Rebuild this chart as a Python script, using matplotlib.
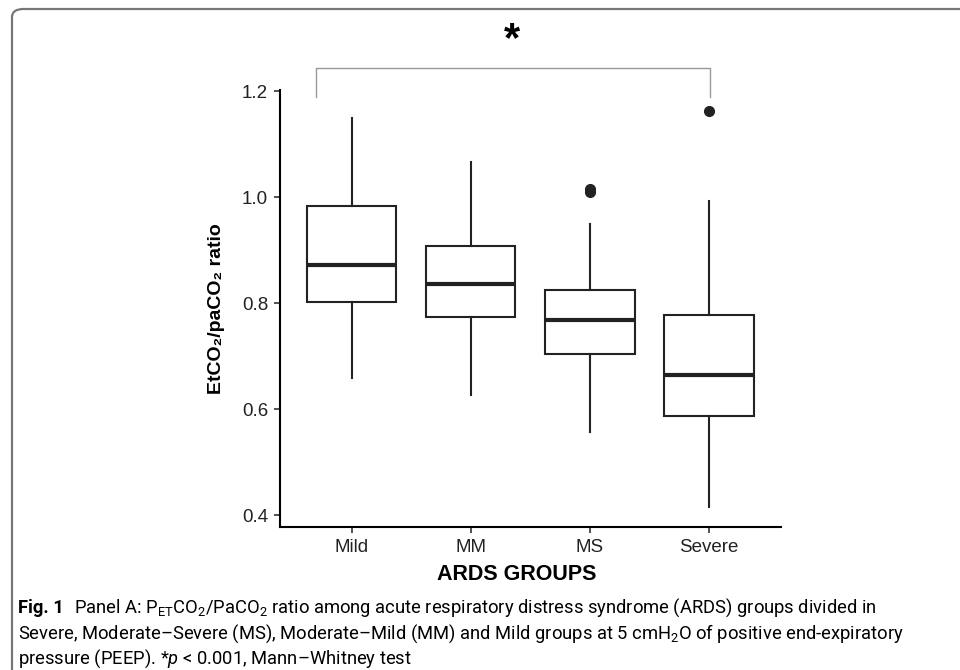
import matplotlib
matplotlib.use('Agg')
import matplotlib.pyplot as plt
from matplotlib.patches import FancyBboxPatch

# Box summary values
groups = ['Mild', 'MM', 'MS', 'Severe']
whisker_low = [0.658, 0.626, 0.556, 0.416]
q1 = [0.802, 0.773, 0.704, 0.586]
median = [0.872, 0.835, 0.768, 0.664]
q3 = [0.984, 0.907, 0.824, 0.777]
whisker_high = [1.150, 1.067, 0.949, 0.992]
outliers = [[], [], [1.010, 1.016], [1.163]]

yticks = [0.4, 0.6, 0.8, 1.0, 1.2]

plt.rcParams['font.family'] = ['Liberation Sans', 'DejaVu Sans']
plt.rcParams['mathtext.fontset'] = 'custom'
plt.rcParams['mathtext.rm'] = 'Roboto'
plt.rcParams['mathtext.it'] = 'Roboto:italic'
plt.rcParams['mathtext.bf'] = 'Roboto:bold'

W, H = 960, 670
fig = plt.figure(figsize=(W / 100, H / 100), dpi=100)

# panel placed in pixel units
left, right, top, bottom = 280, 780.6, 89.7, 527
ax = fig.add_axes([left / W, 1 - bottom / H, (right - left) / W, (bottom - top) / H])

stats = []
for i, g in enumerate(groups):
    stats.append(dict(label=g, med=median[i], q1=q1[i], q3=q3[i],
                      whislo=whisker_low[i], whishi=whisker_high[i],
                      fliers=outliers[i]))

line_c = '#222222'
ax.bxp(stats, positions=range(1, 5), widths=0.75, patch_artist=True,
       showcaps=False,
       boxprops=dict(facecolor='white', edgecolor=line_c, linewidth=1.5),
       medianprops=dict(color=line_c, linewidth=3.0),
       whiskerprops=dict(color=line_c, linewidth=1.5),
       flierprops=dict(marker='o', markerfacecolor=line_c, markeredgecolor=line_c,
                       markersize=7))

ax.set_xlim(0.4, 4.6)
ax.set_ylim(0.3775, 1.2025)
ax.set_yticks(yticks)
ax.set_yticklabels(['%.1f' % t for t in yticks])
ax.set_xticks(range(1, 5))
ax.set_xticklabels(groups)

for s in ['top', 'right']:
    ax.spines[s].set_visible(False)
for s in ['left', 'bottom']:
    ax.spines[s].set_linewidth(1.5)
    ax.spines[s].set_color('black')
ax.tick_params(axis='both', length=4.5, width=1.2, color='#333333',
               labelsize=13.5, labelcolor='#222222', pad=4)

ax.set_xlabel('ARDS GROUPS', fontsize=15.5, fontweight='bold', labelpad=3)
ax.xaxis.set_label_coords((517 - left) / (right - left), -0.085)
ax.set_ylabel('EtCO\u2082/paCO\u2082 ratio', fontsize=14, fontweight='bold', labelpad=12)

# significance bracket over the groups
bx0, bx1 = 0.70, 4.01
by, bdrop = 1.243, 1.189
ax.plot([bx0, bx0, bx1, bx1], [bdrop, by, by, bdrop], color='#999999',
        linewidth=1.0, clip_on=False, solid_joinstyle='round')
fig.text(512 / W, 1 - 40 / H, '*', fontsize=30, fontweight='bold',
         ha='center', va='center')

# frame around the figure (only top and left edges visible)
frame = FancyBboxPatch((12 / W, -0.2), 1.2, 1 - 9 / H + 0.2,
                       boxstyle='round,pad=0,rounding_size=0.012',
                       transform=fig.transFigure, facecolor='none',
                       edgecolor='#777777', linewidth=1.6)
fig.patches.append(frame)

# caption
cap_font = ['Roboto', 'DejaVu Sans']
cap_size = 13.2
fig_lbl = fig.text(18 / W, 1 - 613 / H, 'Fig. 1', fontsize=cap_size, fontweight='bold',
                   family=cap_font, va='baseline', ha='left')
renderer = fig.canvas.get_renderer()
lbl_end = fig_lbl.get_window_extent(renderer).x1
fig.text((lbl_end + 10) / W, 1 - 613 / H,
         r'Panel A: P$_\mathrm{ET}$CO$_2$/PaCO$_2$ ratio among acute respiratory '
         r'distress syndrome (ARDS) groups divided in',
         fontsize=cap_size, family=cap_font, va='baseline', ha='left')
fig.text(18 / W, 1 - 639 / H,
         r'Severe, Moderate–Severe (MS), Moderate–Mild (MM) and Mild groups at '
         r'5 cmH$_2$O of positive end-expiratory',
         fontsize=cap_size, family=cap_font, va='baseline', ha='left')
fig.text(18 / W, 1 - 664 / H,
         r'pressure (PEEP). *$p$ < 0.001, Mann–Whitney test',
         fontsize=cap_size, family=cap_font, va='baseline', ha='left')

fig.savefig('out.png', dpi=100)
